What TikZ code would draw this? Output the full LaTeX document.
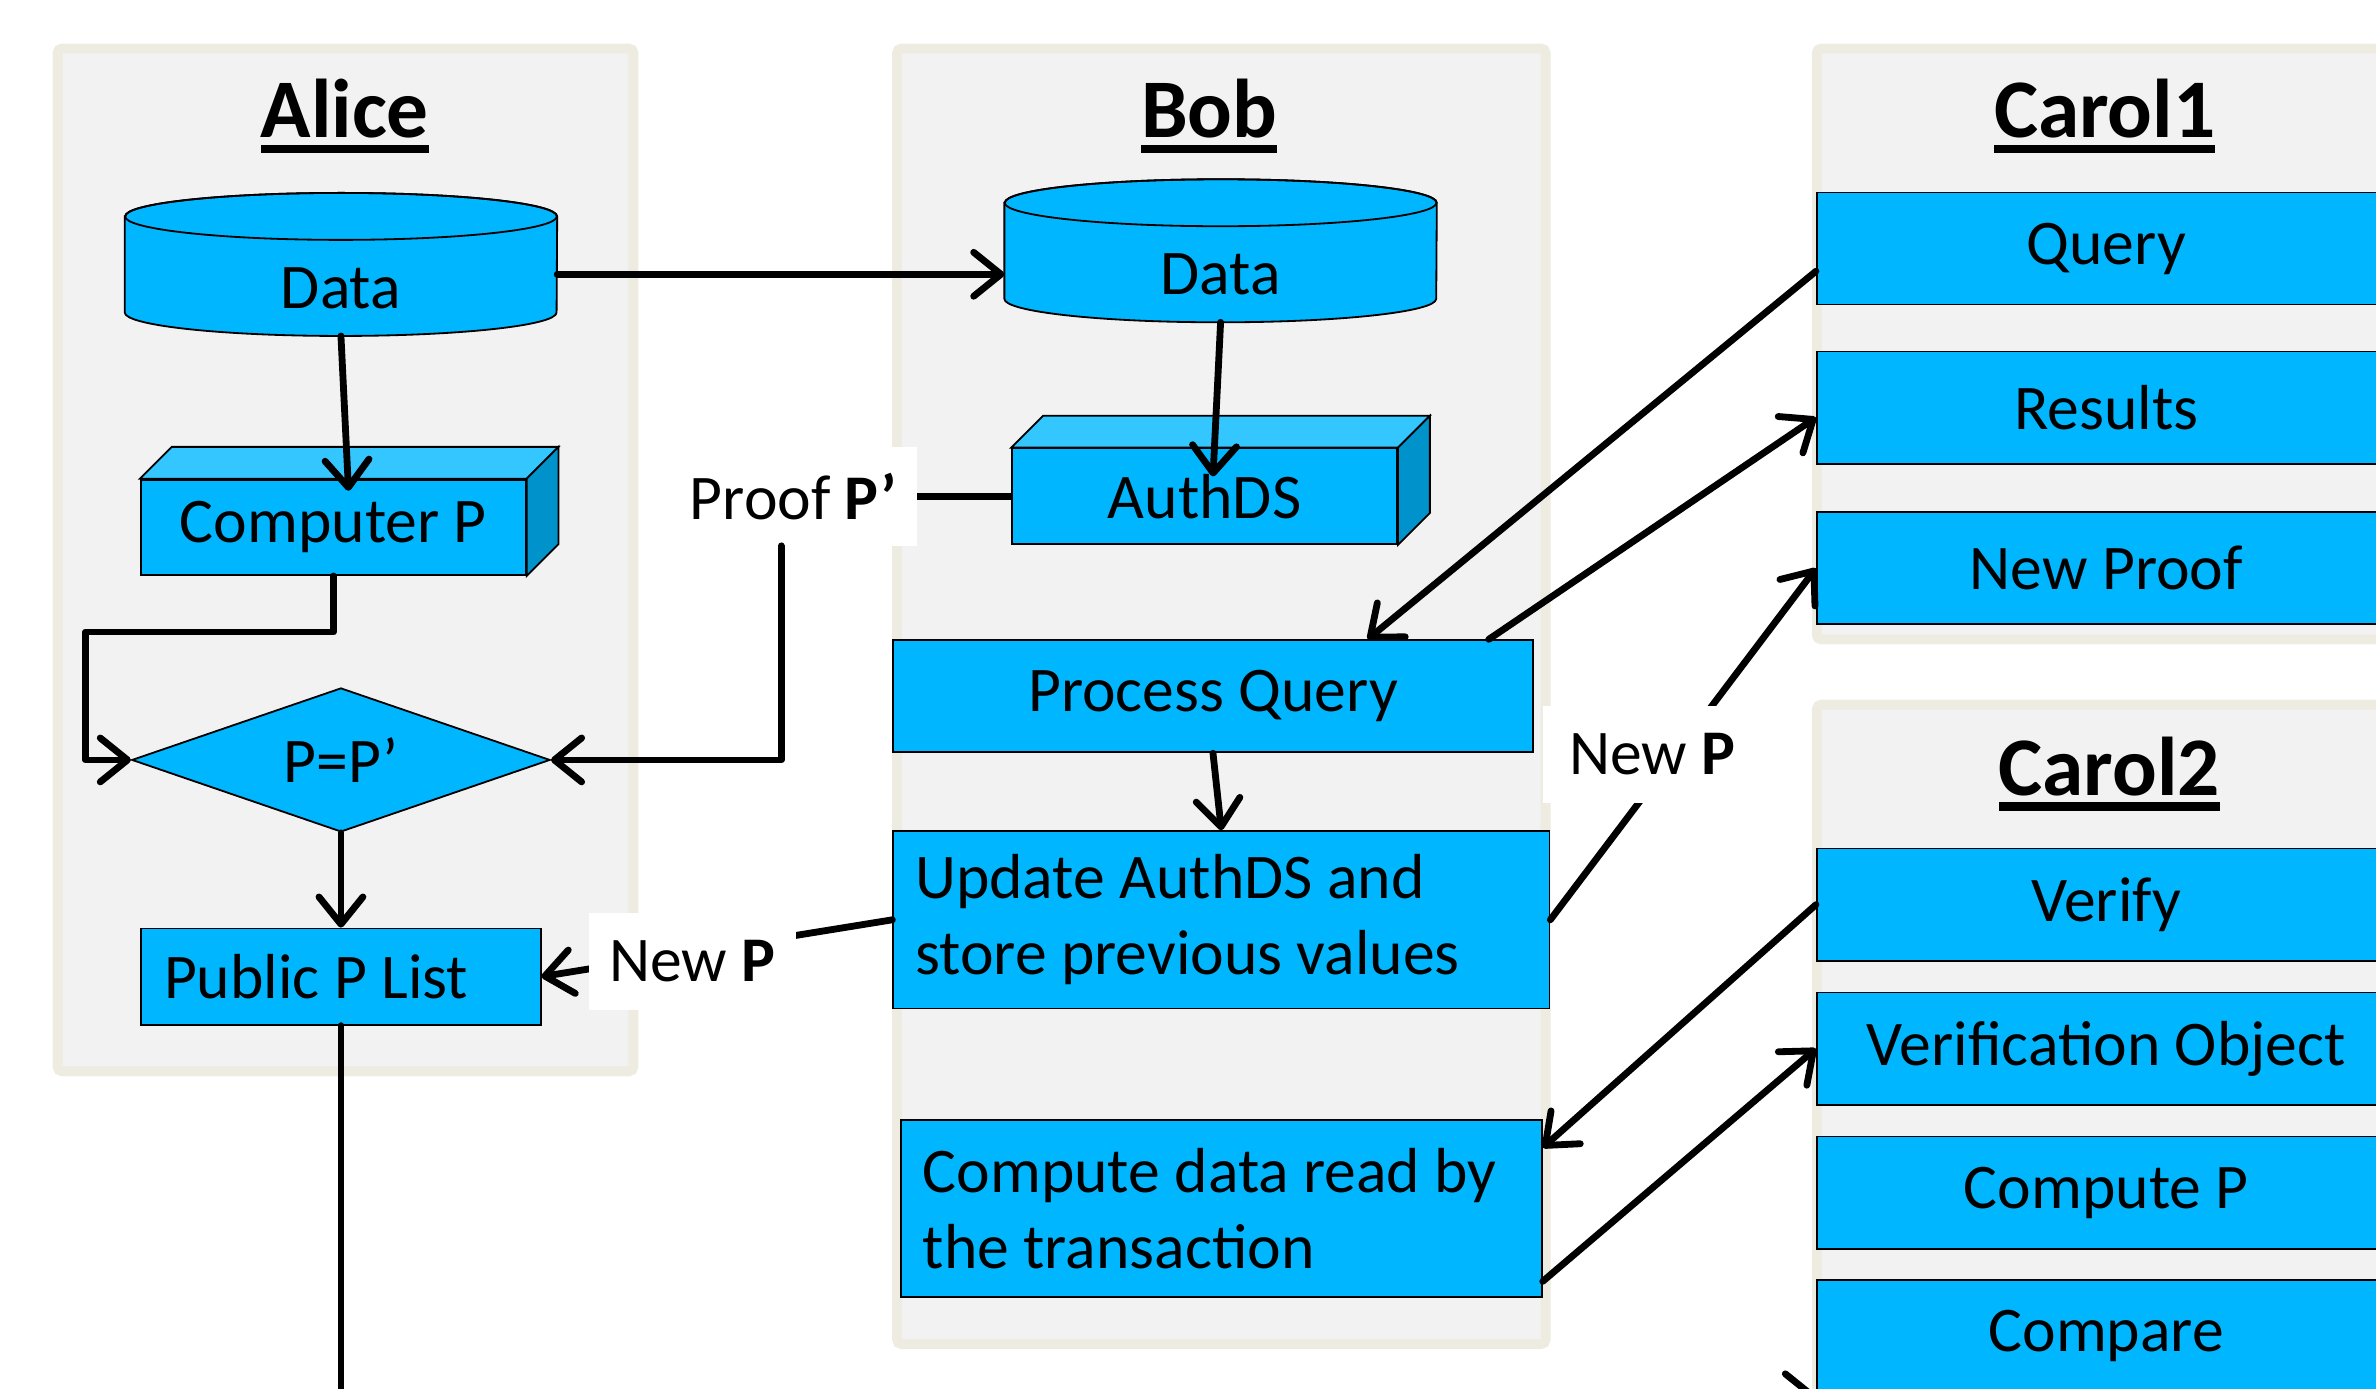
\documentclass[tikz,border=0pt]{standalone}
\usepackage{fontspec}
\setmainfont{Carlito}
\usetikzlibrary{shapes.geometric,arrows.meta,backgrounds}

\definecolor{boxblue}{HTML}{00B7FF}
\definecolor{lidblue}{HTML}{33C6FF}
\definecolor{flankblue}{HTML}{0093CB}
\definecolor{panelgray}{HTML}{F2F2F2}
\definecolor{panelrim}{HTML}{EEECE1}

% underlined lane name
\newcommand{\lanename}[1]{\setbox0=\hbox{#1}\rlap{\rule[-10pt]{\wd0}{5.5pt}}\box0}

% database drum behind a can node
\newcommand{\drum}[1]{%
  \filldraw[outline, fill=boxblue] ([yshift=15.5pt]#1.north west)
    -- ([yshift=15.5pt]#1.south west)
    arc[start angle=180, end angle=360, x radius=142.5pt, y radius=15.5pt]
    -- ([yshift=15.5pt]#1.north east)
    arc[start angle=0, end angle=180, x radius=142.5pt, y radius=15.5pt]
    -- cycle;
  \draw[outline] ([yshift=15.5pt]#1.north) ellipse[x radius=142.5pt, y radius=15.5pt];}

% lid and side of a block node
\newcommand{\slab}[1]{%
  \filldraw[outline, fill=lidblue] (#1.north west) -- ++(21,-21)
    -- ([shift={(21,-21)}]#1.north east) -- (#1.north east) -- cycle;
  \filldraw[outline, fill=flankblue] (#1.north east) -- ++(21,-21)
    -- ([shift={(21,-21)}]#1.south east) -- (#1.south east) -- cycle;}

\begin{document}
\begin{tikzpicture}
    [
    x=1pt, y=-1pt,
    every node/.style={font=\fontsize{42}{50}\selectfont},
    outline/.style={draw=black, line width=1.2pt},
    lane/.style={draw=panelrim, fill=panelgray, line width=6.5pt, rounded corners=3pt},
    lanetitle/.style={font=\fontsize{55}{60}\selectfont\bfseries, anchor=base},
    can/.style={rectangle, minimum width=285, minimum height=63, inner sep=0pt},
    box/.style={rectangle, outline, fill=boxblue, inner sep=0pt},
    block/.style={box, minimum width=254, minimum height=63},
    task/.style={box, minimum width=382, minimum height=74},
    note/.style={box, align=flush left, inner xsep=14.5pt, minimum height=117,
      execute at begin node={\spaceskip=0pt\xspaceskip=0pt}},
    check/.style={diamond, aspect=2.9, outline, fill=boxblue, minimum width=276, minimum height=95, inner sep=0pt},
    tag/.style={fill=white, inner sep=0pt, minimum width=137, minimum height=64},
    wire/.style={line width=4.5pt, line join=round},
    arr/.style={wire, line cap=round, -{Straight Barb[length=18pt, width=29pt, round]}}
    ]
    \useasboundingbox (0,0) rectangle (1568,916);
    \clip (0,0) rectangle (1568,916);

    % Alice
    \node (adata) at (225,190) [can] {Data};
    \node (compp) at (220,348) [block] {Computer P};
    \node (eq) at (225,501.5) [check] {P=P’};
    \node (pub) at (225,644.5) [note, text width=233.5pt, inner xsep=15pt, minimum height=63.5] {Public P List};

    % Bob
    \node (bdata) at (805.5,181) [can] {Data};
    \node (auth) at (795,327.5) [block] {AuthDS};
    \node (proc) at (800.5,459.5) [box, minimum width=422.5, minimum height=74] {Process Query};
    \node (upd) at (806,607) [note, text width=404pt] {Update AuthDS and\\store previous values};
    \node (comp) at (806,797.5) [note, text width=394pt] {Compute data read by\\the transaction};

    % Carol1 and Carol2
    \node (query) at (1390,164) [task] {Query};
    \node (res) at (1390,269) [task] {Results};
    \node (np) at (1390,375) [task] {New Proof};
    \node (ver) at (1390,597) [task] {Verify};
    \node (vo) at (1390,692) [task] {Verification Object};
    \node (cp) at (1390,787) [task] {Compute P};
    \node (cmp) at (1390,881.5) [task] {Compare};

    \begin{pgfonlayer}{background}
      \draw[lane] (38,32) rectangle (418,707);
      \draw[lane] (592,32) rectangle (1020,887);
      \draw[lane] (1199,32) rectangle (1600,422);
      \draw[lane] (1199,465) rectangle (1600,1000);
      \drum{adata}
      \drum{bdata}
    \end{pgfonlayer}
    \slab{compp}
    \slab{auth}

    \node (alice) at (227.5,91) [lanetitle] {\lanename{Alice}};
    \node (bob) at (798,91) [lanetitle] {\lanename{Bob}};
    \node (carol1) at (1389,91) [lanetitle] {\lanename{Carol1}};
    \node (carol2) at (1392,525) [lanetitle] {\lanename{Carol2}};

    \node (proof) at (523.5,327.5) [tag, minimum width=163, minimum height=65] {Proof \textbf{P’}};

    \draw[arr] (bdata.west -| adata.east) -- (bdata.west);
    \draw[arr] (adata.south) -- ([xshift=10pt,yshift=-8pt]compp.north);
    \draw[arr] (compp.south) -- ++(0,37) -| ([xshift=-30pt]eq.west) -- (eq.west);
    \draw[wire] (auth.west) -- (proof.east);
    \draw[arr] ([xshift=-8pt]proof.south) |- (eq.east);
    \draw[arr] (eq.south) -- (pub.north);
    \draw[arr] (upd.west) -- (pub.east) node[tag, pos=0.57, yshift=-6pt] {New \textbf{P}};
    \draw[arr] (pub.south) |- ([yshift=-2pt]cmp.south west);
    \draw[arr] (bdata.south) -- ([xshift=5.5pt,yshift=-19pt]auth.north);
    \draw[arr] (proc.south) -- (upd.north);
    \draw[arr] ([yshift=-15pt]query.west) -- ([xshift=102pt]proc.north);
    \draw[arr] ([xshift=182pt]proc.north) -- ([yshift=-6.5pt]res.west);
    \draw[arr] (upd.east) -- (np.west) node[tag, pos=0.47, xshift=-15pt, minimum width=145] {New \textbf{P}};
    \draw[arr] (ver.west) -- ([yshift=-19pt]comp.north east);
    \draw[arr] ([yshift=11pt]comp.south east) -- (vo.west);
\end{tikzpicture}
\end{document}
